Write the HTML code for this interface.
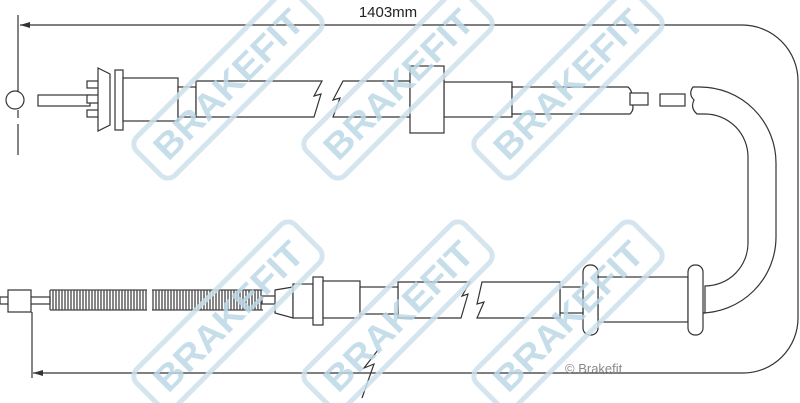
<!DOCTYPE html>
<html><head><meta charset="utf-8"><style>
html,body{margin:0;padding:0;background:#fff;}
svg{display:block;}
</style></head><body>
<svg width="800" height="403" viewBox="0 0 800 403" xmlns="http://www.w3.org/2000/svg">
<defs>
<g id="wm">
<rect x="-112" y="-27" width="224" height="54" rx="10" fill="none" stroke="#cde1ed" stroke-width="5"/>
<text x="0" y="13" text-anchor="middle" font-family="Liberation Sans, sans-serif" font-weight="bold" font-size="36" fill="#bcd7e7" textLength="195" lengthAdjust="spacingAndGlyphs">BRAKEFIT</text>
</g>
</defs>

<g fill="none" stroke="#333" stroke-width="1.2">
<path d="M20 25 H742 A56 56 0 0 1 798 81 V318 A55 55 0 0 1 743 373 H33"/>
<path d="M18 15 V95 M18 110 V118 M18 124 V155"/>
<path d="M32 312 V378"/>
<path d="M378 350 L364 368 L374 364 L362 398" />
</g>
<polygon points="20,25 30,22 30,28" fill="#333"/>
<polygon points="33,373 43,370 43,376" fill="#333"/>
<text x="388" y="17" text-anchor="middle" font-family="Liberation Sans, sans-serif" font-size="15" fill="#222">1403mm</text>

<g fill="#fff" stroke="#333" stroke-width="1.2">
<rect x="38" y="95" width="52" height="11"/>
<circle cx="15" cy="100" r="9"/>
<rect x="87" y="81" width="12" height="7"/><rect x="87" y="95" width="12" height="8"/><rect x="87" y="110" width="12" height="7"/>
<polygon points="98,68 110,74 110,125 98,131"/>
<rect x="115" y="70" width="8" height="60"/>
<rect x="123" y="78" width="55" height="43"/>
<rect x="178" y="87" width="18" height="30"/>
<path d="M196 81 H322 L314 96 L321 94 L314 117 H196 Z"/>
<path d="M343 81 H410 V117 H333 L340 98 L333 100 Z"/>
<rect x="444" y="82" width="68" height="35"/>
<path d="M512 87 H628 Q634 92 630 100 Q636 108 630 114 H512 Z"/>
<rect x="630" y="93" width="18" height="12"/>
<rect x="660" y="94" width="25" height="12"/>
<rect x="410" y="66" width="34" height="67"/>
<path d="M693 87 H700 A76 76 0 0 1 776 163 V237 A76 76 0 0 1 700 313 H705 V286 A43 43 0 0 0 748 243 V157 A43 43 0 0 0 705 114 H697 Q690 108 694 100 Q688 94 693 87 Z"/>
<rect x="598" y="277" width="90" height="45"/>
<rect x="688" y="265" width="15" height="70" rx="7"/>
<rect x="583" y="265" width="15" height="70" rx="7"/>
<rect x="560" y="287" width="23" height="26"/>
<path d="M482 282 H560 V318 H477 L484 302 L477 304 Z"/>
<path d="M398 282 H470 L462 296 L468 294 L461 318 H398 Z"/>
<rect x="0" y="297" width="50" height="7"/>
<rect x="8" y="290" width="23" height="22"/>
<rect x="262" y="296" width="14" height="8"/>
<polygon points="275,290 293,287 293,318 275,313"/>
<rect x="293" y="284" width="20" height="34"/>
<rect x="313" y="277" width="10" height="48"/>
<rect x="323" y="281" width="37" height="37"/>
<rect x="360" y="287" width="38" height="27"/>
</g>
<g stroke="#444" stroke-width="1.3">
<path d="M50 290 V310 M53 290 V310 M56 290 V310 M59 290 V310 M62 290 V310 M65 290 V310 M68 290 V310 M71 290 V310 M74 290 V310 M77 290 V310 M80 290 V310 M83 290 V310 M86 290 V310 M89 290 V310 M92 290 V310 M95 290 V310 M98 290 V310 M101 290 V310 M104 290 V310 M107 290 V310 M110 290 V310 M113 290 V310 M116 290 V310 M119 290 V310 M122 290 V310 M125 290 V310 M128 290 V310 M131 290 V310 M134 290 V310 M137 290 V310 M140 290 V310 M143 290 V310 M146 290 V310"/>
<path d="M153 290 V310 M156 290 V310 M159 290 V310 M162 290 V310 M165 290 V310 M168 290 V310 M171 290 V310 M174 290 V310 M177 290 V310 M180 290 V310 M183 290 V310 M186 290 V310 M189 290 V310 M192 290 V310 M195 290 V310 M198 290 V310 M201 290 V310 M204 290 V310 M207 290 V310 M210 290 V310 M213 290 V310 M216 290 V310 M219 290 V310 M222 290 V310 M225 290 V310 M228 290 V310 M231 290 V310 M234 290 V310 M237 290 V310 M240 290 V310 M243 290 V310 M246 290 V310 M249 290 V310 M252 290 V310 M255 290 V310 M258 290 V310 M261 290 V310"/>
<path d="M50 290 H147 M50 310 H147 M152 290 H263 M152 310 H263" fill="none"/>
</g>

<g opacity="0.85">
<g transform="translate(228,84) rotate(-45)"><use href="#wm"/></g>
<g transform="translate(398,84) rotate(-45)"><use href="#wm"/></g>
<g transform="translate(568,84) rotate(-45)"><use href="#wm"/></g>
<g transform="translate(228,316) rotate(-45)"><use href="#wm"/></g>
<g transform="translate(398,316) rotate(-45)"><use href="#wm"/></g>
<g transform="translate(568,316) rotate(-45)"><use href="#wm"/></g>
</g>
<text x="565" y="373" font-family="Liberation Sans, sans-serif" font-size="13" fill="#888">© Brakefit</text>
</svg>
</body></html>
